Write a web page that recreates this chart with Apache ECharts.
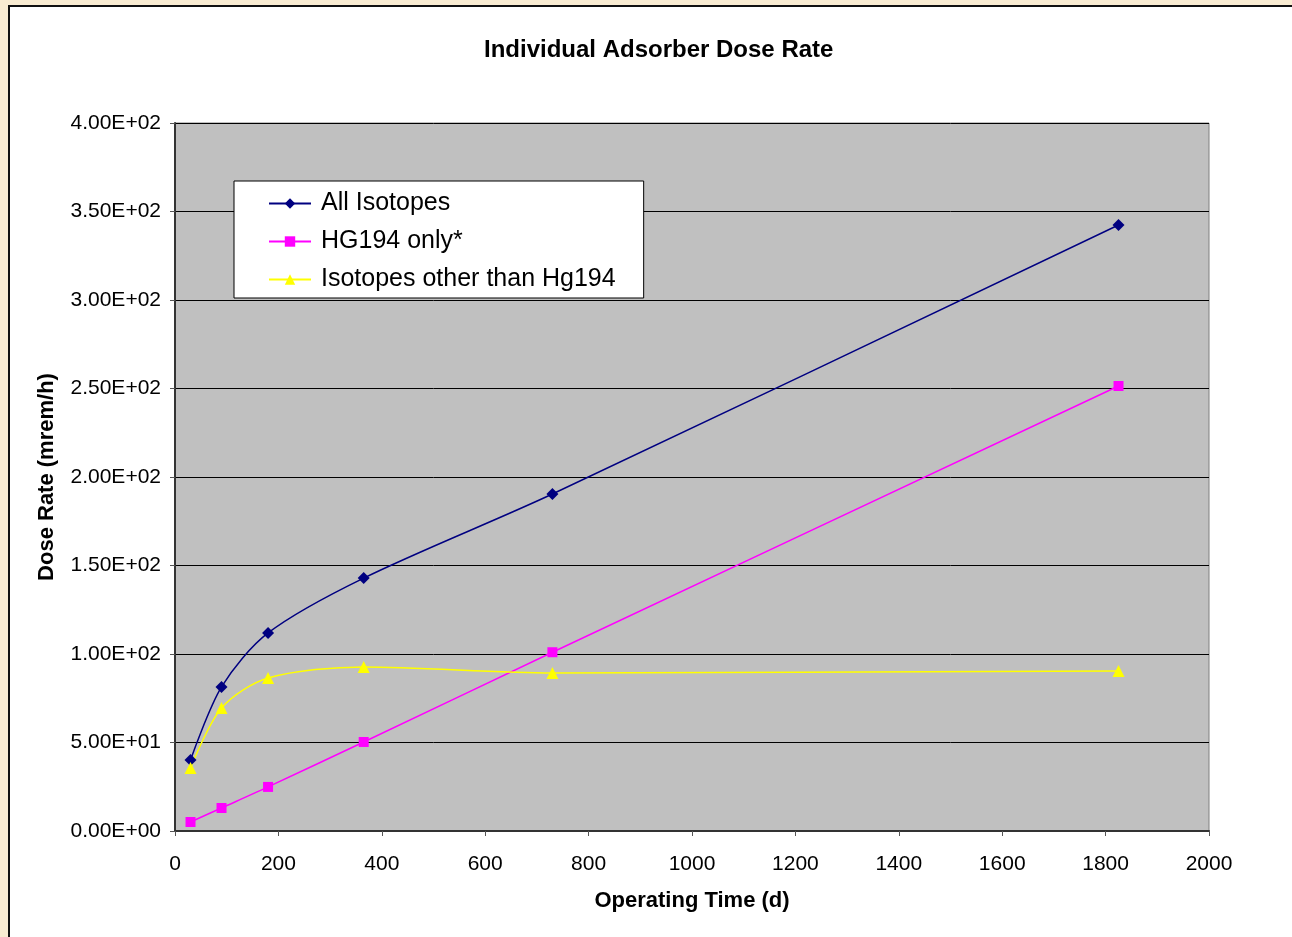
<!DOCTYPE html>
<html><head><meta charset="utf-8">
<script src="https://cdn.jsdelivr.net/npm/echarts@6/dist/echarts.min.js"></script>
<style>
html,body{margin:0;padding:0;width:1292px;height:937px;overflow:hidden;background:#f9ecd2;}
#panel{position:absolute;left:8px;top:5px;width:1290px;height:940px;background:#fff;border-left:2px solid #111;border-top:2px solid #111;}
#chart{position:absolute;left:0;top:0;width:1292px;height:937px;}
</style></head><body>
<div id="panel"></div>
<div id="chart"></div>
<script>
const days = [30, 90, 180, 365, 730, 1825];
const allIsotopes = [40.1, 81.4, 111.9, 142.9, 190.4, 342.4];
const hg194Only = [5.1, 13.0, 24.9, 50.3, 101.0, 251.4];
const otherIsotopes = [35.6, 69.5, 86.4, 92.7, 89.3, 90.4];
const seriesNames = ['All Isotopes', 'HG194 only*', 'Isotopes other than Hg194'];

function pair(xs, ys){ return xs.map((x,i)=>[x, ys[i]]); }
function sci(v){
  if (v === 0) return '0.00E+00';
  const e = Math.floor(Math.log10(Math.abs(v)));
  const m = v / Math.pow(10, e);
  const es = (e < 0 ? '-' : '+') + String(Math.abs(e)).padStart(2,'0');
  return m.toFixed(2) + 'E' + es;
}
const font = 'Liberation Sans, Arial, sans-serif';
const chart = echarts.init(document.getElementById('chart'), null, {renderer:'canvas'});
chart.setOption({
  backgroundColor: 'transparent',
  animation: false,
  title: {
    text: 'Individual Adsorber Dose Rate',
    left: 479, top: 33,
    textStyle: {fontFamily: font, fontSize: 24, fontWeight: 'bold', color: '#000'}
  },
  grid: {left: 175, right: 83, top: 123, bottom: 106, show: true, backgroundColor: '#c0c0c0', borderColor: '#808080', borderWidth: 1},
  legend: {
    orient: 'vertical', left: 234, top: 181,
    padding: [10, 28, 6, 34],
    backgroundColor: '#fff', borderColor: '#000', borderWidth: 1,
    itemWidth: 42, itemHeight: 13, itemGap: 13,
    textStyle: {fontFamily: font, fontSize: 25, color: '#000'},
    formatter: n => '\u2009' + n,
    data: seriesNames
  },
  xAxis: {
    type: 'value', min: 0, max: 2000, interval: 200,
    name: 'Operating Time (d)', nameLocation: 'middle', nameGap: 59,
    nameTextStyle: {fontFamily: font, fontSize: 22, fontWeight: 'bold', color: '#000'},
    axisLine: {show: true, onZero: false, lineStyle: {color: '#333', width: 2}},
    axisTick: {show: true, length: 5, inside: false, lineStyle: {color: '#555'}},
    axisLabel: {fontFamily: font, fontSize: 21, color: '#000', margin: 23, formatter: v => String(v)},
    splitLine: {show: false}
  },
  yAxis: {
    type: 'value', min: 0, max: 400, interval: 50,
    name: 'Dose Rate (mrem/h)', nameLocation: 'middle', nameGap: 117, nameRotate: 90,
    nameTextStyle: {fontFamily: font, fontSize: 22, fontWeight: 'bold', color: '#000'},
    axisLine: {show: true, lineStyle: {color: '#333', width: 2}},
    axisTick: {show: true, length: 5, lineStyle: {color: '#555'}},
    axisLabel: {fontFamily: font, fontSize: 21, color: '#000', margin: 14, formatter: v => sci(v)},
    splitLine: {show: true, lineStyle: {color: '#000', width: 1}}
  },
  series: [
    {name: seriesNames[0], type: 'line', data: pair(days, allIsotopes), smooth: 0.3,
     symbol: 'diamond', symbolSize: 12, color: '#000080', lineStyle: {width: 1.5, color: '#000080'}, itemStyle: {color: '#000080'}},
    {name: seriesNames[1], type: 'line', data: pair(days, hg194Only), smooth: 0.3,
     symbol: 'rect', symbolSize: 10, color: '#ff00ff', lineStyle: {width: 1.5, color: '#ff00ff'}, itemStyle: {color: '#ff00ff'}},
    {name: seriesNames[2], type: 'line', data: pair(days, otherIsotopes), smooth: 0.3,
     symbol: 'triangle', symbolSize: 12, color: '#ffff00', lineStyle: {width: 1.5, color: '#ffff00'}, itemStyle: {color: '#ffff00'}}
  ]
});
</script>
</body></html>
